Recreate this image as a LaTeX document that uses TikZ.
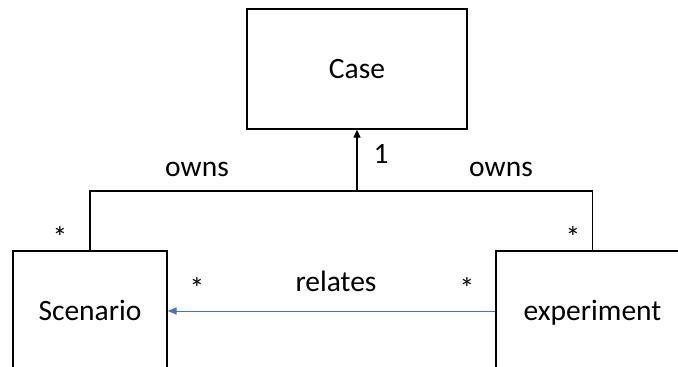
\documentclass[tikz,border=0pt]{standalone}
\usepackage{fontspec}
\setmainfont{Carlito}
\usetikzlibrary{arrows.meta}
\definecolor{linkblue}{RGB}{68,114,196}
\begin{document}
\begin{tikzpicture}[x=1pt,y=-1pt,
  font=\fontsize{29.5}{35}\selectfont,
  classbox/.style={draw=black,line width=1.3pt,inner sep=0pt,
    text height=18pt,text depth=0pt,minimum height=120pt},
  lbl/.style={anchor=base,inner sep=0pt},
  assoc/.style={draw=black,line width=1.3pt},
  relation/.style={draw=linkblue,line width=1pt,-{Triangle[width=7pt,length=9pt]}},
  ]
\useasboundingbox (0,0) rectangle (678,367);
\clip (0,0) rectangle (678,367);

% classes
\node[classbox,minimum width=220pt] (case) at (357,69) {Case};
\node[classbox,minimum width=154pt] (scenario) at (90,311) {Scenario};
\node[classbox,minimum width=193pt] (experiment) at (592.5,311) {experiment};

% ownership tree
\coordinate (join) at (357,191);
\draw[assoc] (scenario.north) |- (join) -| (experiment.north);
\draw[assoc,-{Triangle[width=7pt,length=8pt]}] (join) -- (case.south);

% relation
\draw[relation] (experiment.west) -- (scenario.east);

% labels and multiplicities
\node[lbl] (ownsL) at (197,176) {owns};
\node[lbl] (ownsR) at (501,176) {owns};
\node[lbl] (one) at (381,163) {1};
\node[lbl] (mScenTop) at (60,247) {*};
\node[lbl] (mExpTop) at (573,247) {*};
\node[lbl] (mScenRel) at (197,298) {*};
\node[lbl] (mExpRel) at (467,298) {*};
\node[lbl] (relates) at (336,291) {relates};
\end{tikzpicture}
\end{document}
